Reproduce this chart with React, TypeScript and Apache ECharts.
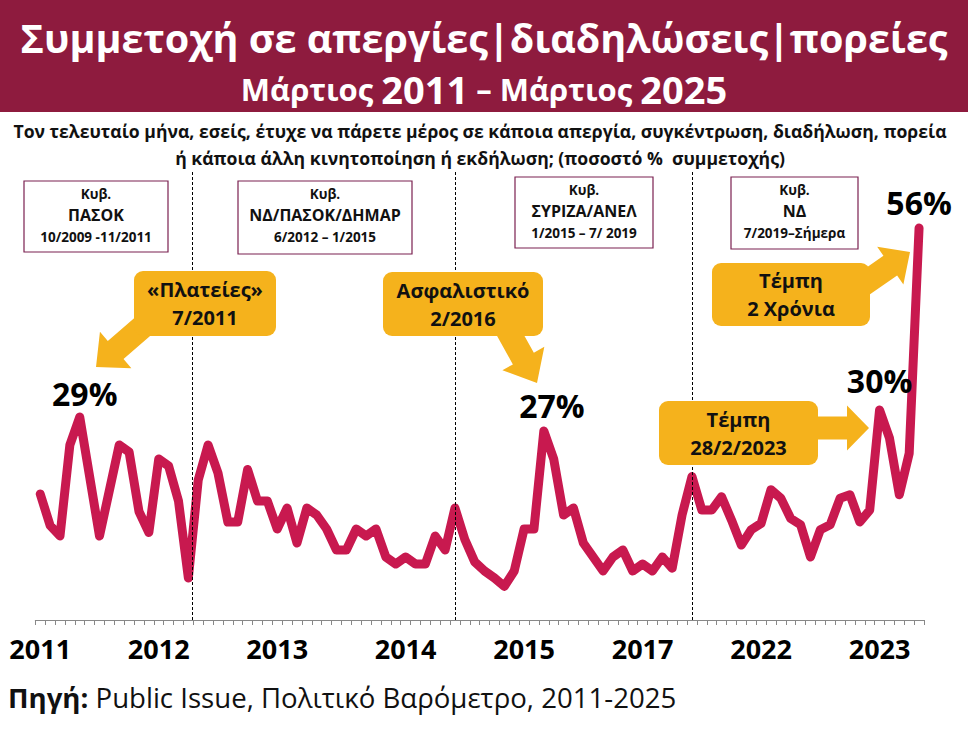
import React, { useEffect, useRef } from "react";
import * as echarts from "echarts";

// ---- data ----
const participation: number[] = [
  18, 13.5, 12, 25, 29, 20.5, 12, 18.5, 25, 24,
  15.5, 12.5, 23, 22, 17, 6, 20, 25, 21, 14,
  14, 21.5, 17, 17, 13, 16, 11, 16, 15, 13,
  10, 10, 13, 12, 13, 9, 8, 9, 8, 8,
  12, 10, 16, 11.5, 8.3, 7, 6, 4.8, 7, 13,
  13, 27, 23, 15, 16, 11, 9, 7, 9, 10,
  7, 8, 7, 9, 7.4, 15, 20.5, 15.7, 15.7, 17.6,
  14.3, 10.7, 12.9, 13.8, 18.6, 17.4, 14.5, 13.6, 9, 12.9,
  13.6, 17.4, 17.9, 14, 15.7, 30, 26, 17.9, 23.8, 56,
];
const categories: string[] = participation.map((_, i) => String(i));
const yearLabelIndex: number[] = [0, 12, 24, 37, 49, 61, 73, 85];
const yearLabels: string[] = ["2011", "2012", "2013", "2014", "2015", "2017", "2022", "2023"];
const highlightIndex: number[] = [4, 51, 85, 89];
const highlightLabels: string[] = ["29%", "27%", "30%", "56%"];
const highlightOffsets: number[][] = [[5, 2], [8, 0], [0, -4], [0, 0]];
const governmentChanges: number[] = [15.9, 42.5, 66.5];

const FONT = "'Open Sans', 'Noto Sans', sans-serif";
const ORANGE = "#F5B21C";
const MAROON = "#8E1B3E";
const LINE = "#C8194F";

function arrowPts(x0: number, y0: number, x1: number, y1: number, sw: number, hw: number, hl: number) {
  const dx = x1 - x0, dy = y1 - y0;
  const L = Math.hypot(dx, dy);
  const ux = dx / L, uy = dy / L;
  const px = -uy, py = ux;
  const bx = x1 - ux * hl, by = y1 - uy * hl;
  return [
    [x0 + (px * sw) / 2, y0 + (py * sw) / 2],
    [bx + (px * sw) / 2, by + (py * sw) / 2],
    [bx + (px * hw) / 2, by + (py * hw) / 2],
    [x1, y1],
    [bx - (px * hw) / 2, by - (py * hw) / 2],
    [bx - (px * sw) / 2, by - (py * sw) / 2],
    [x0 - (px * sw) / 2, y0 - (py * sw) / 2],
  ];
}

function callout(x: number, y: number, w: number, h: number, lines: string[], arrow: number[][]) {
  return [
    { type: "polygon", shape: { points: arrow }, style: { fill: ORANGE }, z: 10 },
    { type: "rect", shape: { x, y, width: w, height: h, r: 9 }, style: { fill: ORANGE }, z: 10 },
    {
      type: "text", x: x + w / 2, y: y + h / 2, z: 11,
      style: {
        text: lines.join("\n"), align: "center", verticalAlign: "middle",
        font: `bold 20px ${FONT}`, lineHeight: 28, fill: "#111",
      },
    },
  ];
}

function govBox(x: number, y: number, w: number, h: number, name: string, period: string) {
  return [
    { type: "rect", shape: { x, y, width: w, height: h }, style: { fill: "#fff", stroke: "#7B2150", lineWidth: 1.2 }, z: 10 },
    {
      type: "text", x: x + w / 2, y: y + 13, z: 11,
      style: { text: "Κυβ.", align: "center", verticalAlign: "middle", font: `bold 13.5px ${FONT}`, fill: "#111" },
    },
    {
      type: "text", x: x + w / 2, y: y + 34, z: 11,
      style: { text: name, align: "center", verticalAlign: "middle", font: `bold 16px ${FONT}`, fill: "#111" },
    },
    {
      type: "text", x: x + w / 2, y: y + 56, z: 11,
      style: { text: period, align: "center", verticalAlign: "middle", font: `bold 13.5px ${FONT}`, fill: "#111" },
    },
  ];
}

export default function App() {
  const ref = useRef<HTMLDivElement>(null);
  useEffect(() => {
    if (!ref.current) return;
    const chart = echarts.init(ref.current, null, { renderer: "svg" });
    const seriesData = participation.map((v, i) => {
      const k = highlightIndex.indexOf(i);
      if (k < 0) return v;
      return {
        value: v,
        label: {
          show: true, position: "top", distance: 10,
          offset: highlightOffsets[k],
          formatter: highlightLabels[k],
          fontFamily: FONT, fontWeight: "bold", fontSize: 32, color: "#000",
        },
      };
    });
    const graphic: any[] = [
      { type: "rect", shape: { x: 0, y: 0, width: 968, height: 112 }, style: { fill: MAROON }, z: 5 },
      {
        type: "text", x: 484, y: 38, z: 6,
        style: {
          text: "Συμμετοχή σε απεργίες|διαδηλώσεις|πορείες", align: "center", verticalAlign: "middle",
          font: `bold 39.5px ${FONT}`, fill: "#fff",
        },
      },
      {
        type: "text", x: 484, y: 89, z: 6,
        style: {
          text: "{a|Μάρτιος }{b|2011}{a| – Μάρτιος }{b|2025}", align: "center", verticalAlign: "middle",
          rich: {
            a: { fontFamily: FONT, fontWeight: "bold", fontSize: 31, fill: "#fff", color: "#fff" },
            b: { fontFamily: FONT, fontWeight: "bold", fontSize: 38, fill: "#fff", color: "#fff" },
          },
        },
      },
      {
        type: "text", x: 480, y: 144, z: 6,
        style: {
          text: "Τον τελευταίο μήνα, εσείς, έτυχε να πάρετε μέρος σε κάποια απεργία, συγκέντρωση, διαδήλωση, πορεία\nή κάποια άλλη κινητοποίηση ή εκδήλωση; (ποσοστό %  συμμετοχής)",
          align: "center", verticalAlign: "middle", font: `bold 17.6px ${FONT}`, lineHeight: 27, fill: "#111",
        },
      },
      ...govBox(24, 181, 144, 71, "ΠΑΣΟΚ", "10/2009 -11/2011"),
      ...govBox(238, 181, 174, 73, "ΝΔ/ΠΑΣΟΚ/ΔΗΜΑΡ", "6/2012 – 1/2015"),
      ...govBox(515, 177, 138, 71, "ΣΥΡΙΖΑ/ΑΝΕΛ", "1/2015 – 7/ 2019"),
      ...govBox(731, 177, 127, 72, "ΝΔ", "7/2019–Σήμερα"),
      ...callout(134, 271, 142, 65, ["«Πλατείες»", "7/2011"], arrowPts(148, 322, 96, 367, 24, 48, 26)),
      ...callout(383, 272, 160, 64, ["Ασφαλιστικό", "2/2016"], arrowPts(503, 322, 537, 383, 24, 48, 28)),
      ...callout(712, 263, 158, 63, ["Τέμπη", "2 Χρόνια"], arrowPts(848, 295, 910, 252, 24, 46, 24)),
      ...callout(659, 401, 159, 64, ["Τέμπη", "28/2/2023"], arrowPts(805, 428, 869, 428, 23, 45, 22)),
      {
        type: "text", x: 8, y: 697, z: 6,
        style: {
          text: "{b|Πηγή:}{r| Public Issue, Πολιτικό Βαρόμετρο, 2011-2025}", verticalAlign: "middle",
          rich: {
            b: { fontFamily: FONT, fontWeight: "bold", fontSize: 27.6, fill: "#111" },
            r: { fontFamily: FONT, fontSize: 27.6, fill: "#111" },
          },
        },
      },
    ];
    chart.setOption({
      animation: false,
      backgroundColor: "#fff",
      grid: { left: 35.3, right: 44, top: 172, bottom: 119, containLabel: false },
      xAxis: [
        {
          type: "category", data: categories, boundaryGap: true,
          axisLine: { lineStyle: { color: "#888", width: 1 } },
          axisTick: { show: true, interval: 0, length: 5, lineStyle: { color: "#888" } },
          axisLabel: {
            interval: (i: number) => yearLabelIndex.includes(i),
            formatter: (_v: string, i: number) => {
              const k = yearLabelIndex.indexOf(i);
              return k >= 0 ? yearLabels[k] : "";
            },
            fontFamily: FONT, fontWeight: "bold", fontSize: 27, color: "#000", margin: 15,
          },
        },
        { type: "value", min: 0, max: participation.length, show: false },
      ],
      yAxis: { type: "value", min: 0, max: 64, show: false, splitLine: { show: false } },
      series: [
        {
          type: "line", data: seriesData, xAxisIndex: 0,
          symbol: "circle", symbolSize: 0, showSymbol: true, showAllSymbol: true, smooth: false,
          lineStyle: { color: LINE, width: 9, cap: "round", join: "round" },
          itemStyle: { color: LINE }, z: 3,
        },
        {
          type: "line", xAxisIndex: 1, data: [], symbol: "none", silent: true,
          markLine: {
            symbol: "none", silent: true, label: { show: false },
            lineStyle: { color: "#000", type: [3, 2], width: 1 },
            data: governmentChanges.map((x) => ({ xAxis: x })),
          },
        },
      ],
      graphic,
    });
    return () => chart.dispose();
  }, []);
  return (
    <div
      ref={ref}
      style={{ position: "fixed", left: 0, top: 0, width: 968, height: 739, background: "#fff" }}
    />
  );
}
